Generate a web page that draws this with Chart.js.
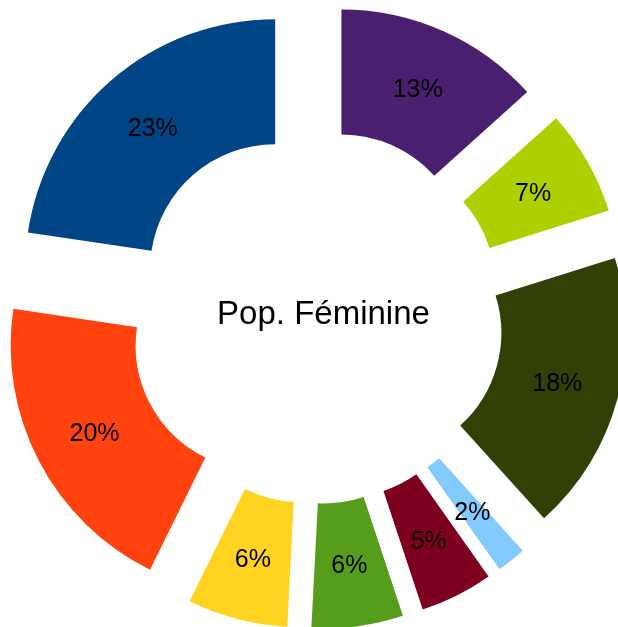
<!DOCTYPE html>
<html>
<head>
<meta charset="utf-8">
<script src="https://cdn.jsdelivr.net/npm/chart.js@4/dist/chart.umd.min.js"></script>
<style>
  html, body { margin: 0; padding: 0; background: #fff; }
  #wrap { width: 618px; height: 627px; }
</style>
</head>
<body>
<div id="wrap"><canvas id="popChart"></canvas></div>
<script>
// === DATA ===
// Slices listed clockwise from 12 o'clock.
var categories = ['Cat. 9', 'Cat. 8', 'Cat. 7', 'Cat. 6', 'Cat. 5', 'Cat. 4', 'Cat. 3', 'Cat. 2', 'Cat. 1'];
var shares = [13.3, 6.8, 18.1, 1.9, 4.7, 5.9, 6.45, 20.0, 22.6];
var sliceColors = ['#4b1f6f', '#aecf00', '#314004', '#83caff', '#7e0021', '#579d1c', '#ffd320', '#ff420e', '#004586'];
var centerTitle = 'Pop. Féminine';

// Distance each slice is pulled out from the centre (px)
var EXPLODE = 62.5;

// Draw slices translated outward along their mid angle (uniform explode)
var explodePlugin = {
  id: 'explode',
  beforeDatasetDraw: function(chart, args) {
    var ctx = chart.ctx;
    args.meta.data.forEach(function(arc) {
      var mid = (arc.startAngle + arc.endAngle) / 2;
      ctx.save();
      ctx.translate(Math.cos(mid) * EXPLODE, Math.sin(mid) * EXPLODE);
      arc.draw(ctx, chart.chartArea);
      ctx.restore();
    });
    return false;
  }
};

// Percent labels in each slice + title in the hole
var labelPlugin = {
  id: 'sliceLabels',
  afterDatasetsDraw: function(chart) {
    var ctx = chart.ctx;
    var meta = chart.getDatasetMeta(0);
    var data = chart.data.datasets[0].data;
    var total = data.reduce(function(s, v) { return s + v; }, 0);
    ctx.save();
    ctx.fillStyle = '#000';
    ctx.textAlign = 'center';
    ctx.textBaseline = 'middle';
    ctx.font = '25px "Liberation Sans", Arial, sans-serif';
    meta.data.forEach(function(arc, i) {
      var mid = (arc.startAngle + arc.endAngle) / 2;
      var p = arc.tooltipPosition();
      var x = p.x + Math.cos(mid) * EXPLODE;
      var y = p.y + Math.sin(mid) * EXPLODE + 2;
      ctx.fillText(Math.round(data[i] / total * 100) + '%', x, y);
    });
    var first = meta.data[0];
    ctx.font = '33px "Liberation Sans", Arial, sans-serif';
    ctx.fillText(centerTitle, first.x + 7.5, first.y - 2);
    ctx.restore();
  }
};

var ctx = document.getElementById('popChart').getContext('2d');
var popChart = new Chart(ctx, {
  type: 'doughnut',
  data: {
    labels: categories,
    datasets: [{
      data: shares,
      backgroundColor: sliceColors,
      borderWidth: 0
    }]
  },
  options: {
    responsive: true, maintainAspectRatio: false,
    animation: false,
    radius: 250,
    cutout: '50%',
    layout: { padding: { left: 14, top: 6, right: 0, bottom: 0 } },
    plugins: {
      legend: { display: false },
      tooltip: { enabled: false }
    }
  },
  plugins: [explodePlugin, labelPlugin]
});
</script>
</body>
</html>
